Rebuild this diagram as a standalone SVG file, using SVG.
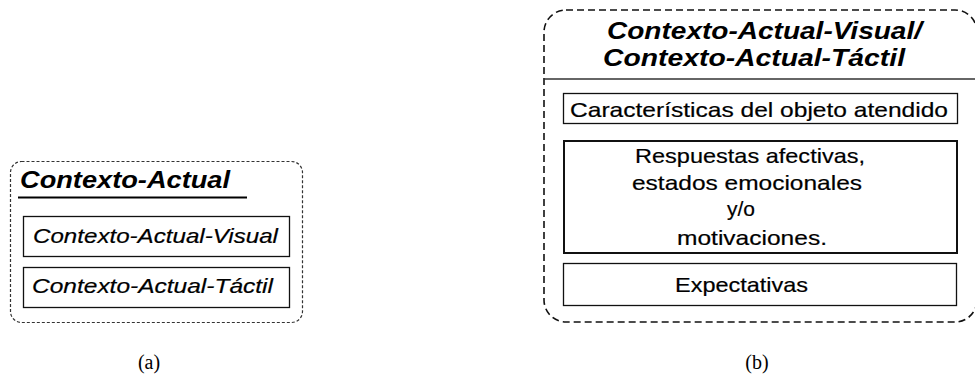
<svg xmlns="http://www.w3.org/2000/svg" width="975" height="377" viewBox="0 0 975 377">
  <style>
    .frame-a { fill: none; stroke: #333; stroke-width: 1.2; stroke-dasharray: 3 2; }
    .frame-b { fill: none; stroke: #111; stroke-width: 1.6; stroke-dasharray: 7 4; }
    .box { fill: #fff; stroke: #111; stroke-width: 1.3; }
    .box-thick { fill: #fff; stroke: #111; stroke-width: 2; }
    .title { font-family: "Liberation Sans", Arial, sans-serif; font-weight: bold; font-style: italic; font-size: 23px; fill: #000; }
    .item-i { font-family: "Liberation Sans", Arial, sans-serif; font-style: italic; font-size: 21px; fill: #000; stroke: #000; stroke-width: 0.2; }
    .item { font-family: "Liberation Sans", Arial, sans-serif; font-size: 21px; fill: #000; stroke: #000; stroke-width: 0.2; }
    .caption { font-family: "Liberation Serif", "Times New Roman", serif; font-size: 20px; fill: #000; text-anchor: middle; }
  </style>

  <!-- (a) current context -->
  <g id="contexto-actual">
    <rect class="frame-a" x="10.5" y="161.5" width="292" height="161" rx="11"/>
    <text class="title" x="20" y="188" textLength="210" lengthAdjust="spacingAndGlyphs">Contexto-Actual</text>
    <line x1="18" y1="197.5" x2="247" y2="197.5" stroke="#000" stroke-width="2"/>
  </g>
  <g id="contexto-actual-visual">
    <rect class="box" x="23.5" y="216.5" width="266" height="40"/>
    <text class="item-i" x="33" y="243" textLength="245" lengthAdjust="spacingAndGlyphs">Contexto-Actual-Visual</text>
  </g>
  <g id="contexto-actual-tactil">
    <rect class="box" x="23.5" y="267.5" width="266" height="40"/>
    <text class="item-i" x="32" y="293" textLength="241" lengthAdjust="spacingAndGlyphs">Contexto-Actual-Táctil</text>
  </g>

  <!-- (b) visual / tactile context -->
  <g id="contexto-visual-tactil">
    <rect class="frame-b" x="544" y="10" width="433" height="312" rx="22"/>
    <text class="title" x="607" y="39" textLength="315" lengthAdjust="spacingAndGlyphs">Contexto-Actual-Visual/</text>
    <text class="title" x="603" y="66" textLength="302" lengthAdjust="spacingAndGlyphs">Contexto-Actual-Táctil</text>
    <line x1="544" y1="79" x2="975" y2="79" stroke="#333" stroke-width="1.5"/>
  </g>
  <g id="caracteristicas">
    <rect class="box" x="563.5" y="93.5" width="394" height="30"/>
    <text class="item" x="570" y="117" textLength="378" lengthAdjust="spacingAndGlyphs">Características del objeto atendido</text>
  </g>
  <g id="respuestas">
    <rect class="box-thick" x="564" y="141" width="393" height="112"/>
    <text class="item" x="635" y="163" textLength="230" lengthAdjust="spacingAndGlyphs">Respuestas afectivas,</text>
    <text class="item" x="632" y="190" textLength="230" lengthAdjust="spacingAndGlyphs">estados emocionales</text>
    <text class="item" x="741" y="216" text-anchor="middle">y/o</text>
    <text class="item" x="677" y="245" textLength="150" lengthAdjust="spacingAndGlyphs">motivaciones.</text>
  </g>
  <g id="expectativas">
    <rect class="box" x="563.5" y="263.5" width="393" height="42"/>
    <text class="item" x="675" y="292" textLength="133" lengthAdjust="spacingAndGlyphs">Expectativas</text>
  </g>

  <g id="connectors"/>

  <!-- captions -->
  <text class="caption" x="149" y="369">(a)</text>
  <text class="caption" x="757" y="369">(b)</text>
</svg>
